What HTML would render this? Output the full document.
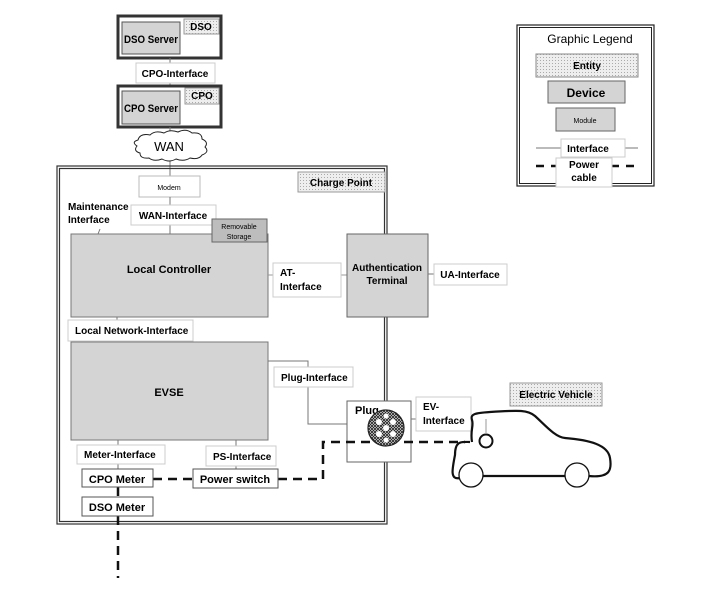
<!DOCTYPE html>
<html><head><style>body{margin:0;background:#fff}svg{display:block}</style></head><body>
<svg width="718" height="594" xmlns="http://www.w3.org/2000/svg" font-family="Liberation Sans, sans-serif" font-weight="bold" font-size="10">
<defs>
<pattern id="dot" width="3" height="3" patternUnits="userSpaceOnUse"><rect width="3" height="3" fill="#eee"/><rect width="1" height="1" fill="#aaa"/></pattern>
<pattern id="mesh" width="3" height="3" patternUnits="userSpaceOnUse"><rect width="3" height="3" fill="#fff"/><path d="M0 0L3 3M3 0L0 3" stroke="#222" stroke-width="0.9"/></pattern>
</defs>
<!-- DSO -->
<rect x="118" y="16" width="103" height="42" fill="#fff" stroke="#333" stroke-width="3"/>
<rect x="122" y="22" width="58" height="32" fill="#d4d4d4" stroke="#555"/>
<text x="124" y="43" font-size="11" textLength="54" lengthAdjust="spacingAndGlyphs">DSO Server</text>
<rect x="184" y="19" width="35" height="15" fill="url(#dot)" stroke="#999"/>
<text x="201" y="30" text-anchor="middle">DSO</text>
<line x1="170" y1="58" x2="170" y2="85" stroke="#777"/>
<rect x="136" y="63" width="79" height="20" fill="#fff" stroke="#ccc"/>
<text x="175" y="77" text-anchor="middle">CPO-Interface</text>
<!-- CPO -->
<rect x="118" y="86" width="103" height="41" fill="#fff" stroke="#333" stroke-width="3"/>
<rect x="122" y="91" width="58" height="33" fill="#d4d4d4" stroke="#555"/>
<text x="124" y="112" font-size="11" textLength="54" lengthAdjust="spacingAndGlyphs">CPO Server</text>
<rect x="185" y="88" width="34" height="16" fill="url(#dot)" stroke="#999"/>
<text x="202" y="99" text-anchor="middle">CPO</text>
<line x1="170" y1="127" x2="170" y2="176" stroke="#777"/>
<!-- WAN cloud -->
<path d="M138 140 q2-7 12-5 q5-5 14-2 q6-4 14-1 q8-4 14 1 q10-1 10 6 q7 3 3 8 q5 5-3 8 q-3 5-12 3 q-6 4-14 1 q-7 4-14 0 q-8 3-13-1 q-9 1-9-5 q-7-2-3-7 q-6-4 1-6z" fill="#fff" stroke="#222" stroke-width="1"/>
<text x="169" y="151" text-anchor="middle" font-size="13" font-weight="normal">WAN</text>
<!-- Charge point -->
<rect x="57" y="166" width="330" height="358" fill="none" stroke="#333" stroke-width="1.2"/>
<rect x="59.5" y="168.5" width="325" height="353" fill="none" stroke="#333" stroke-width="1.2"/>
<rect x="298" y="172" width="87" height="20" fill="url(#dot)" stroke="#999"/>
<text x="341" y="186" text-anchor="middle">Charge Point</text>
<rect x="139" y="176" width="61" height="21" fill="#fff" stroke="#bbb"/>
<text x="169" y="190" text-anchor="middle" font-size="7" font-weight="normal">Modem</text>
<line x1="170" y1="197" x2="170" y2="234" stroke="#777"/>
<text x="68" y="210">Maintenance</text>
<text x="68" y="223">Interface</text>
<line x1="100" y1="229" x2="98" y2="234" stroke="#777"/>
<rect x="131" y="205" width="85" height="20" fill="#fff" stroke="#ccc"/>
<text x="173" y="219" text-anchor="middle">WAN-Interface</text>
<rect x="71" y="234" width="197" height="83" fill="#d4d4d4" stroke="#777"/>
<text x="169" y="273" text-anchor="middle" font-size="11">Local Controller</text>
<rect x="212" y="219" width="55" height="23" fill="#bdbdbd" stroke="#666"/>
<text x="239" y="229" text-anchor="middle" font-size="7" font-weight="normal">Removable</text>
<text x="239" y="239" text-anchor="middle" font-size="7" font-weight="normal">Storage</text>
<line x1="268" y1="275" x2="347" y2="275" stroke="#999"/>
<rect x="273" y="263" width="68" height="34" fill="#fff" stroke="#ccc"/>
<text x="280" y="276">AT-</text>
<text x="280" y="290">Interface</text>
<rect x="347" y="234" width="81" height="83" fill="#d4d4d4" stroke="#666"/>
<text x="387" y="271" text-anchor="middle">Authentication</text>
<text x="387" y="284" text-anchor="middle">Terminal</text>
<line x1="428" y1="274" x2="434" y2="274" stroke="#777"/>
<rect x="434" y="264" width="73" height="21" fill="#fff" stroke="#ccc"/>
<text x="470" y="278" text-anchor="middle">UA-Interface</text>
<line x1="117" y1="317" x2="117" y2="342" stroke="#777"/>
<rect x="68" y="320" width="125" height="21" fill="#fff" stroke="#ccc"/>
<text x="75" y="334">Local Network-Interface</text>
<rect x="71" y="342" width="197" height="98" fill="#d4d4d4" stroke="#777"/>
<text x="169" y="396" text-anchor="middle" font-size="11">EVSE</text>
<polyline points="268,361 308,361 308,424 347,424" fill="none" stroke="#777"/>
<rect x="274" y="367" width="79" height="20" fill="#fff" stroke="#ccc"/>
<text x="281" y="381">Plug-Interface</text>
<!-- plug -->
<rect x="347" y="401" width="64" height="61" fill="#fff" stroke="#666"/>
<text x="355" y="414" font-size="11">Plug</text>
<polyline points="411,419 416,419" stroke="#777"/>
<rect x="416" y="397" width="55" height="34" fill="#fff" stroke="#ccc"/>
<text x="423" y="410">EV-</text>
<text x="423" y="424">Interface</text>
<!-- meters -->
<line x1="118" y1="440" x2="118" y2="469" stroke="#777"/>
<line x1="236" y1="440" x2="236" y2="469" stroke="#777"/>
<rect x="77" y="445" width="88" height="19" fill="#fff" stroke="#ccc"/>
<text x="84" y="458">Meter-Interface</text>
<rect x="206" y="446" width="70" height="20" fill="#fff" stroke="#ccc"/>
<text x="213" y="460">PS-Interface</text>
<path d="M153 479 H193 M278 479 H323 V442 H370 M404 442 H465" fill="none" stroke="#111" stroke-width="2.5" stroke-dasharray="9,6"/>
<path d="M118 487 V497 M118 516 V578" stroke="#111" stroke-width="2.5" stroke-dasharray="9,6"/>
<rect x="82" y="469" width="71" height="18" fill="#fff" stroke="#555"/>
<text x="117" y="483" text-anchor="middle" font-size="11">CPO Meter</text>
<rect x="193" y="469" width="85" height="19" fill="#fff" stroke="#555"/>
<text x="235" y="483" text-anchor="middle" font-size="11">Power switch</text>
<rect x="82" y="497" width="71" height="19" fill="#fff" stroke="#555"/>
<text x="117" y="511" text-anchor="middle" font-size="11">DSO Meter</text>
<circle cx="386" cy="428" r="18" fill="url(#mesh)" stroke="#222" stroke-width="1.2"/>
<g fill="#fff"><circle cx="386" cy="428" r="3"/><circle cx="379" cy="422" r="3"/><circle cx="393" cy="422" r="3"/><circle cx="379" cy="434" r="3"/><circle cx="393" cy="434" r="3"/><circle cx="386" cy="416" r="2.5"/><circle cx="386" cy="440" r="2.5"/></g>
<!-- car -->
<rect x="510" y="383" width="92" height="23" fill="url(#dot)" stroke="#999"/>
<text x="556" y="398" text-anchor="middle">Electric Vehicle</text>
<path d="M470 442 C462 442 455 440 455 455 C452 470 450 480 460 478 M483 476 H565 M589 476 C610 478 612 470 610 458 C608 445 590 440 565 438 C555 437 545 425 535 416 C528 410 520 410 490 412 C475 413 470 414 472 420 C474 426 470 430 472 442" fill="none" stroke="#111" stroke-width="2.2"/>
<circle cx="471" cy="475" r="12" fill="#fff" stroke="#111" stroke-width="1.3"/>
<circle cx="577" cy="475" r="12" fill="#fff" stroke="#111" stroke-width="1.3"/>
<circle cx="486" cy="441" r="6.5" fill="#fff" stroke="#111" stroke-width="2"/>
<line x1="486" y1="434" x2="486" y2="419" stroke="#999"/>
<!-- legend -->
<rect x="517" y="25" width="137" height="161" fill="#fff" stroke="#222" stroke-width="1.2"/>
<rect x="519.5" y="27.5" width="132" height="156" fill="none" stroke="#222" stroke-width="1"/>
<text x="590" y="43" text-anchor="middle" font-size="12" font-weight="normal">Graphic Legend</text>
<rect x="536" y="54" width="102" height="23" fill="url(#dot)" stroke="#888"/>
<text x="587" y="69" text-anchor="middle">Entity</text>
<rect x="548" y="81" width="77" height="22" fill="#d4d4d4" stroke="#666"/>
<text x="586" y="97" text-anchor="middle" font-size="12">Device</text>
<rect x="556" y="108" width="59" height="23" fill="#d4d4d4" stroke="#666"/>
<text x="585" y="123" text-anchor="middle" font-size="7" font-weight="normal">Module</text>
<line x1="536" y1="148" x2="638" y2="148" stroke="#777"/>
<path d="M536 166 H638" stroke="#111" stroke-width="2.5" stroke-dasharray="8,7"/>
<rect x="561" y="139" width="64" height="18" fill="#fff" stroke="#ccc"/>
<text x="588" y="152" text-anchor="middle">Interface</text>
<rect x="556" y="158" width="56" height="29" fill="#fff" stroke="#ccc"/>
<text x="584" y="168" text-anchor="middle">Power</text>
<text x="584" y="181" text-anchor="middle">cable</text>
</svg>
</body></html>
